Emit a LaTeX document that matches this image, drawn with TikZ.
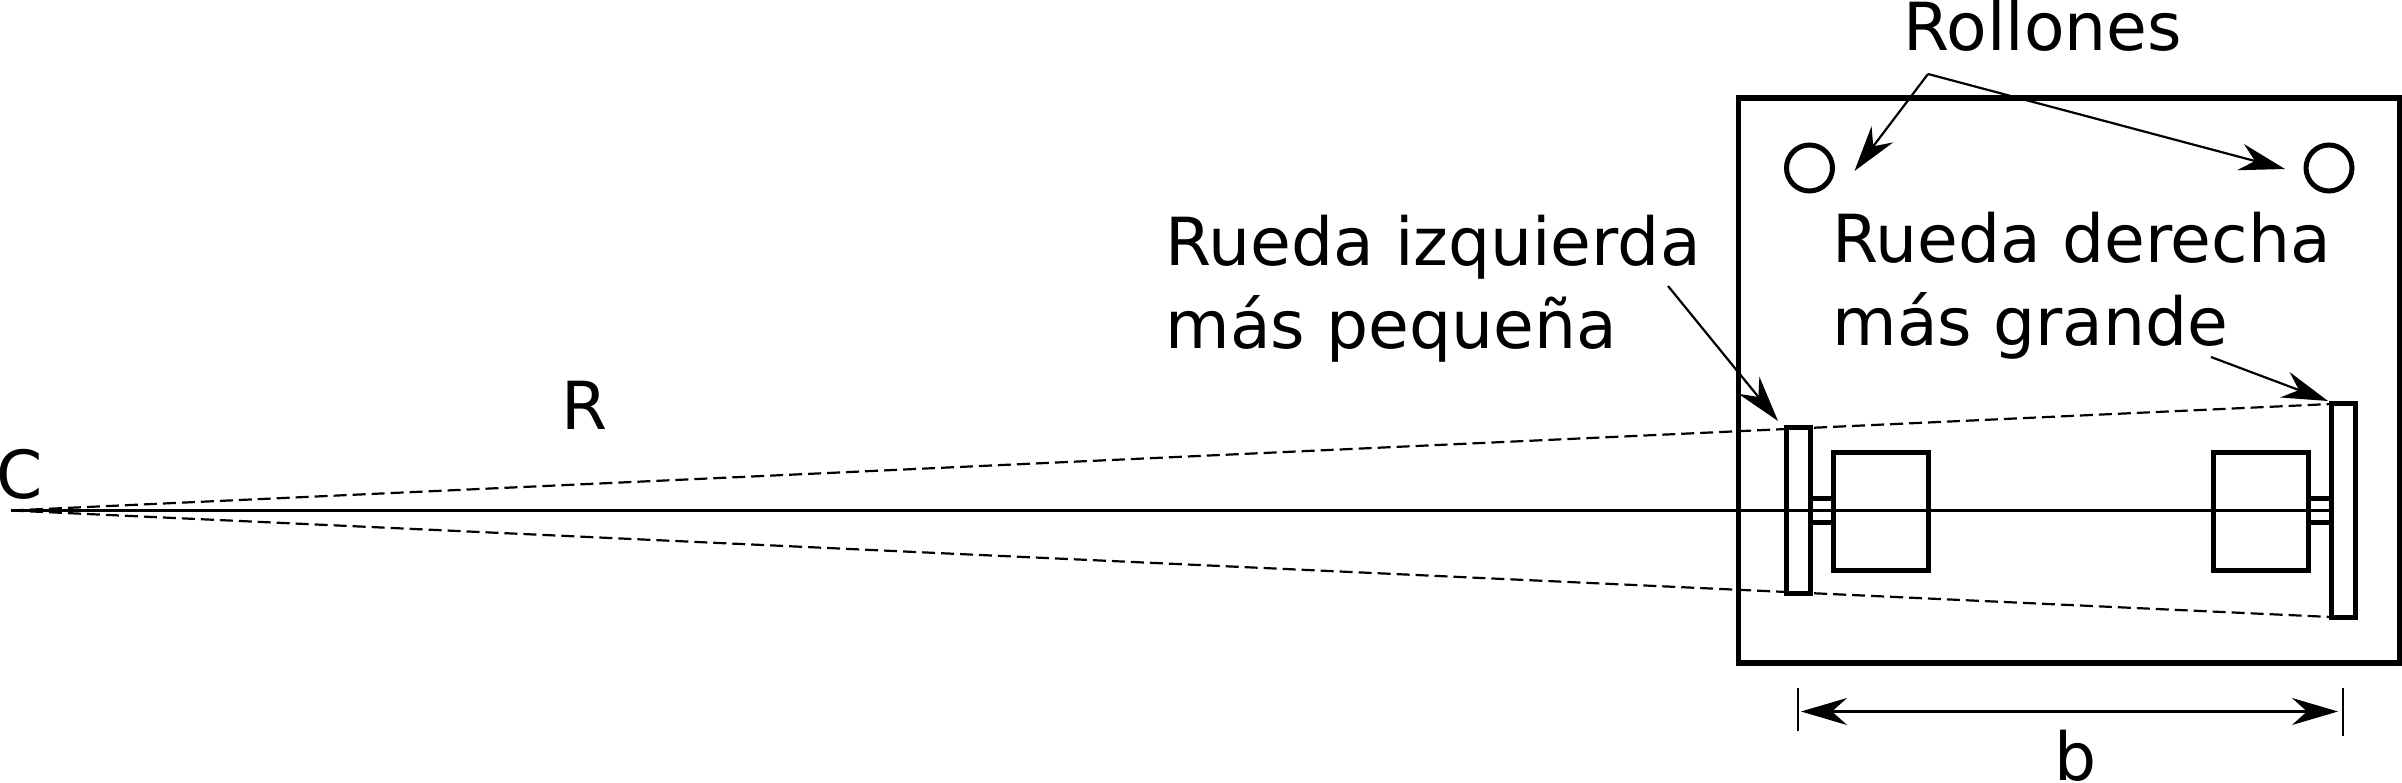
\documentclass[tikz,border=0pt]{standalone}
\usepackage{fontspec}
\setmainfont{DejaVu Sans}
\usetikzlibrary{arrows.meta}
\tikzset{
  x=1pt,y=-1pt,
  tip/.tip={Stealth[length=46pt,width=27pt,inset=15pt]},
  lbl/.style={inner sep=0pt,outer sep=0pt,font=\fontsize{66.3}{83}\selectfont,align=left},
  part/.style={draw=black,line width=5pt,inner sep=0pt,outer sep=0pt,rectangle},
  roller/.style={draw=black,line width=5pt,circle,minimum size=46pt,inner sep=0pt,outer sep=0pt},
  thinline/.style={line width=2.2pt,draw=black},
  dashline/.style={line width=2.2pt,draw=black,dash pattern=on 13pt off 6pt},
  leader/.style={line width=2.2pt,draw=black,-{tip}},
}
\begin{document}
\begin{tikzpicture}
\useasboundingbox (0,0) rectangle (2402,783);
% chassis
\node[part,line width=5.2pt,minimum width=661pt,minimum height=565pt] (chassis) at (2069,380.5) {};
\node[roller] (rollerL) at (1809.5,168) {};
\node[roller] (rollerR) at (2329,168) {};
\node[part,minimum width=24pt,minimum height=165pt] (wheelL) at (1798,510.5) {};
\node[part,minimum width=24pt,minimum height=213pt] (wheelR) at (2343,510.5) {};
\node[part,minimum width=95pt,minimum height=118pt] (motorL) at (1880.5,511) {};
\node[part,minimum width=95pt,minimum height=118pt] (motorR) at (2260.5,511) {};
\node[part,minimum width=23pt,minimum height=24pt] (axleL) at (1821.5,510.5) {};
\node[part,minimum width=23pt,minimum height=24pt] (axleR) at (2319.5,510.5) {};
% centre lines
\coordinate (center) at (11,510.5);
\draw[thinline] (center) -- (wheelR.west);
\draw[dashline] (center) -- (wheelR.north west);
\draw[dashline] (center) -- (wheelR.south west);
% labels
\node[lbl,anchor=base west] (c) at (-3.5,498.5) {C};
\node[lbl,anchor=base west] (r) at (561.5,429) {R};
\node[lbl,anchor=base west] (rollones) at (1903.5,50.7) {Rollones};
\node[lbl,anchor=base west] (ruedaI) at (1165.5,266) {Rueda izquierda};
\node[lbl,anchor=base west] (ruedaI2) at (1165.5,349) {más pequeña};
\node[lbl,anchor=base west] (ruedaD) at (1832.5,263) {Rueda derecha};
\node[lbl,anchor=base west] (ruedaD2) at (1832.5,346) {más grande};
\node[lbl,anchor=base] (b) at (2076,780.5) {b};
% leaders
\coordinate (fork) at (1928,74);
\coordinate (tipRL) at (1854.5,171);
\coordinate (tipRR) at (2285,169);
\coordinate (startI) at (1668,286);
\coordinate (tipI) at (1778,421);
\coordinate (startD) at (2211,357);
\coordinate (tipD) at (2328,401);
\draw[leader] (fork) -- (tipRL);
\draw[leader] (fork) -- (tipRR);
\draw[leader] (startI) -- (tipI);
\draw[leader] (startD) -- (tipD);
% dimension
\coordinate (t1a) at (1798,688); \coordinate (t1b) at (1798,731);
\coordinate (t2a) at (2343,688); \coordinate (t2b) at (2343,736);
\draw[line width=1.6pt] (t1a) -- (t1b);
\draw[line width=1.6pt] (t2a) -- (t2b);
\coordinate (d1) at (1801,711.5); \coordinate (d2) at (2338,711.5);
\draw[line width=2.2pt,{tip}-{tip}] (d1) -- (d2);
\end{tikzpicture}
\end{document}
